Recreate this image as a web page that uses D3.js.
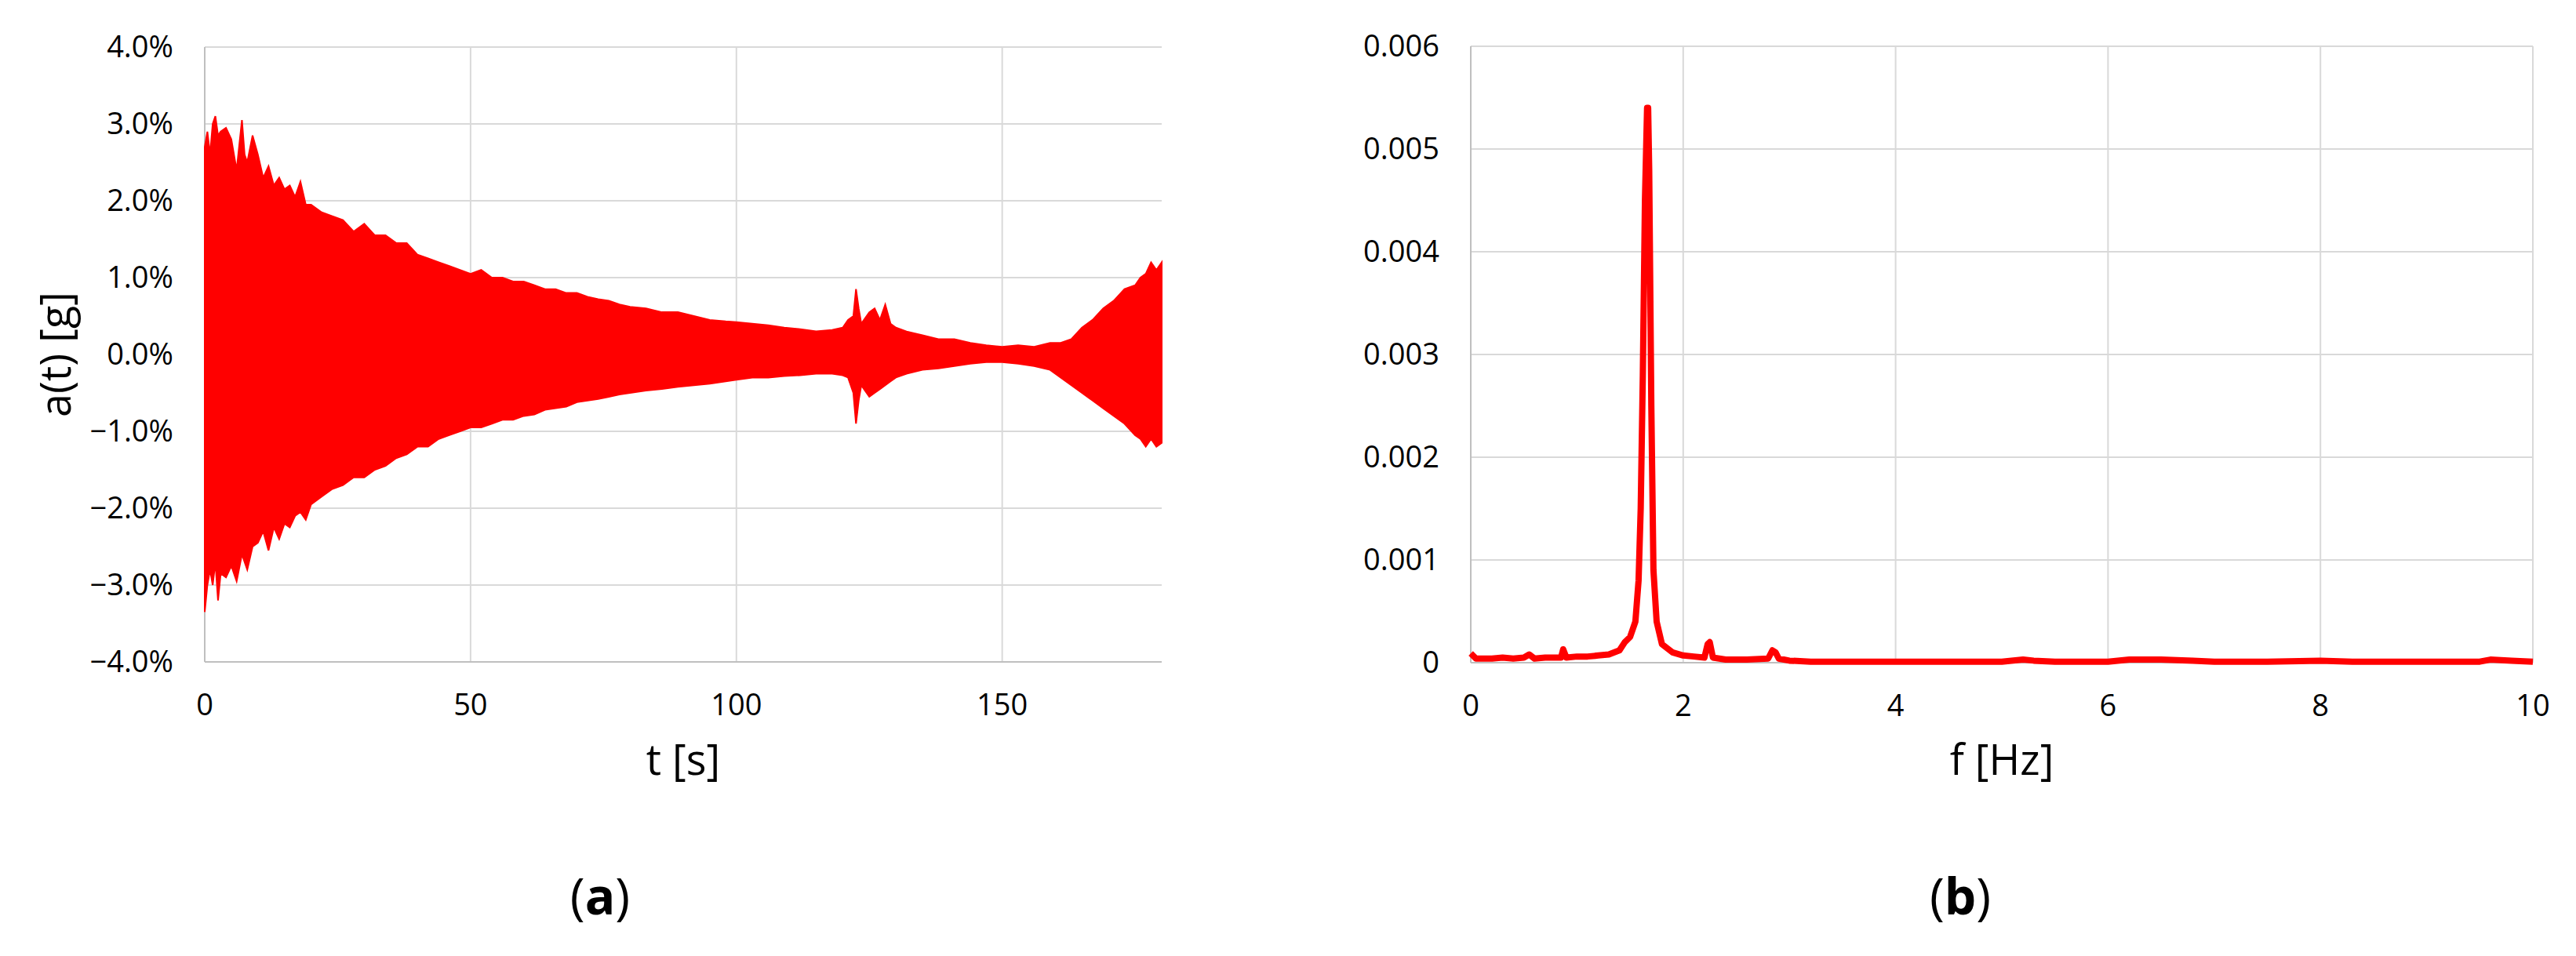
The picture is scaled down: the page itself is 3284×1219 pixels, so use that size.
<!DOCTYPE html>
<html><head><meta charset="utf-8">
<script src="https://cdn.jsdelivr.net/npm/d3@7"></script>
<style>body{margin:0;background:#fff}text{font-family:"Liberation Sans Narrow","Open Sans",sans-serif}</style>
</head><body><svg id="c" width="3284" height="1219"></svg>
<script>
// Panel (a): envelope of acceleration (% g)
const tUpper=[0,0.5,1,1.5,2,2.5,3,4,5,6,7,7.5,8,9,10,11,12,13,14,15,16,17,18,19,20,22,24,26,28,30,32,34,36,38,40,42,44,46,48,50,52,54,56,58,60,62,64,66,68,70,72,74,76,78,80,83,86,89,92,95,98,100,103,106,109,112,115,118,120,121,122,122.5,123,123.5,124,125,126,127,128,129,130,132,135,138,141,144,147,150,153,156,159,161,163,165,167,169,171,173,175,176,177,178,179,180];
const aUpper=[2.7,2.9,2.6,3.0,3.1,2.85,2.9,2.95,2.8,2.4,3.05,2.6,2.5,2.85,2.6,2.3,2.45,2.2,2.3,2.15,2.2,2.05,2.25,1.95,1.95,1.85,1.8,1.75,1.6,1.7,1.55,1.55,1.45,1.45,1.3,1.25,1.2,1.15,1.1,1.05,1.1,1.0,1.0,0.95,0.95,0.9,0.85,0.85,0.8,0.8,0.75,0.72,0.7,0.65,0.62,0.6,0.55,0.55,0.5,0.45,0.43,0.42,0.4,0.38,0.35,0.33,0.3,0.32,0.35,0.45,0.5,0.85,0.6,0.4,0.45,0.55,0.6,0.45,0.65,0.4,0.35,0.3,0.25,0.2,0.2,0.15,0.12,0.1,0.12,0.1,0.15,0.15,0.2,0.35,0.45,0.6,0.7,0.85,0.9,1.0,1.05,1.2,1.1,1.2,1.15];
const tLower=[0,0.5,1,1.5,2,2.5,3,4,5,6,7,8,9,10,11,12,13,14,15,16,17,18,19,20,22,24,26,28,30,32,34,36,38,40,42,44,46,48,50,52,54,56,58,60,62,64,66,68,70,72,74,76,78,80,83,86,89,92,95,98,100,103,106,109,112,115,118,120,121,122,122.5,123,123.5,124,125,126,127,128,129,130,132,135,138,141,144,147,150,153,156,159,161,163,165,167,169,171,173,175,176,177,178,179,180];
const aLower=[-3.35,-3.0,-2.8,-3.0,-2.7,-3.2,-2.85,-2.9,-2.75,-2.95,-2.6,-2.8,-2.5,-2.45,-2.3,-2.55,-2.25,-2.4,-2.2,-2.25,-2.1,-2.05,-2.15,-1.95,-1.85,-1.75,-1.7,-1.6,-1.6,-1.5,-1.45,-1.35,-1.3,-1.2,-1.2,-1.1,-1.05,-1.0,-0.95,-0.95,-0.9,-0.85,-0.85,-0.8,-0.78,-0.72,-0.7,-0.68,-0.62,-0.6,-0.58,-0.55,-0.52,-0.5,-0.47,-0.45,-0.42,-0.4,-0.38,-0.35,-0.33,-0.3,-0.3,-0.28,-0.27,-0.25,-0.25,-0.27,-0.3,-0.5,-0.9,-0.6,-0.4,-0.45,-0.55,-0.5,-0.45,-0.4,-0.35,-0.3,-0.25,-0.2,-0.18,-0.15,-0.12,-0.1,-0.1,-0.12,-0.15,-0.2,-0.3,-0.4,-0.5,-0.6,-0.7,-0.8,-0.9,-1.05,-1.1,-1.2,-1.1,-1.2,-1.15];
const aTicksY=[-4,-3,-2,-1,0,1,2,3,4];
const aTicksX=[0,50,100,150];
// Panel (b): spectrum
const fHz=[0,0.05,0.1,0.2,0.3,0.4,0.5,0.55,0.6,0.7,0.8,0.85,0.87,0.9,1.0,1.1,1.2,1.3,1.4,1.45,1.5,1.55,1.58,1.6,1.62,1.64,1.66,1.67,1.68,1.7,1.72,1.75,1.8,1.9,2.0,2.1,2.2,2.23,2.25,2.28,2.4,2.6,2.8,2.84,2.87,2.9,3.0,3.2,3.5,4.0,4.5,5.0,5.2,5.3,5.5,6.0,6.2,6.5,6.8,7.0,7.5,8.0,8.3,9.0,9.5,9.6,9.8,10];
const amp=[0.00009,0.00004,0.00004,0.00004,0.00005,0.00004,0.00005,0.00008,0.00004,0.00005,0.00005,0.00005,0.00013,0.00005,0.00006,0.00006,0.00007,0.00008,0.00012,0.0002,0.00025,0.0004,0.0008,0.0015,0.0028,0.0045,0.0054,0.0054,0.0048,0.0025,0.0009,0.0004,0.00018,0.0001,0.00007,0.00006,0.00005,0.00018,0.0002,0.00005,0.00003,0.00003,0.00004,0.00012,0.0001,0.00004,0.00002,0.00001,0.00001,0.00001,0.00001,0.00001,0.00003,0.00002,0.00001,0.00001,0.00003,0.00003,0.00002,0.00001,0.00001,0.00002,0.00001,0.00001,0.00001,0.00003,0.00002,0.00001];
const bTicksY=[0,0.001,0.002,0.003,0.004,0.005,0.006];
const bTicksX=[0,2,4,6,8,10];

const svg=d3.select("#c");
const grid="#d9d9d9";
function panel(xs,ys,xt,yt,yfmt,xTitle,yTitle,label,lx){
  const g=svg.append("g");
  g.selectAll(".gy").data(yt).join("line").attr("x1",xs.range()[0]).attr("x2",xs.range()[1])
   .attr("y1",d=>ys(d)).attr("y2",d=>ys(d)).attr("stroke",grid).attr("stroke-width",2);
  g.selectAll(".gx").data(xt).join("line").attr("x1",d=>xs(d)).attr("x2",d=>xs(d))
   .attr("y1",ys.range()[0]).attr("y2",ys.range()[1]).attr("stroke",grid).attr("stroke-width",2);
  g.append("line").attr("x1",xs.range()[0]).attr("x2",xs.range()[1]).attr("y1",ys.range()[0]).attr("y2",ys.range()[0]).attr("stroke","#bfbfbf").attr("stroke-width",2);
  g.append("line").attr("x1",xs.range()[0]).attr("x2",xs.range()[0]).attr("y1",ys.range()[0]).attr("y2",ys.range()[1]).attr("stroke","#bfbfbf").attr("stroke-width",2);
  g.selectAll(".ty").data(yt).join("text").attr("x",xs.range()[0]-40).attr("y",d=>ys(d)).attr("dy","0.35em")
   .attr("text-anchor","end").attr("font-size",38).text(yfmt);
  g.selectAll(".tx").data(xt).join("text").attr("x",d=>xs(d)).attr("y",ys.range()[0]+55).attr("dy","0.35em")
   .attr("text-anchor","middle").attr("font-size",38).text(d=>d);
  const cx=(xs.range()[0]+xs.range()[1])/2;
  g.append("text").attr("x",cx).attr("y",988).attr("text-anchor","middle").attr("font-size",54).text(xTitle);
  if(yTitle) g.append("text").attr("transform",`translate(90,452) rotate(-90)`).attr("text-anchor","middle").attr("font-size",54).text(yTitle);
  const t=g.append("text").attr("x",lx).attr("y",1166).attr("text-anchor","middle").attr("font-size",64)
   .attr("font-family","'DejaVu Serif',serif");
  t.append("tspan").text("(");t.append("tspan").attr("font-weight","bold").text(label);t.append("tspan").text(")");
  return g;
}
// (a)
const xa=d3.scaleLinear().domain([0,180]).range([261,1481]);
const ya=d3.scaleLinear().domain([-4,4]).range([844,60]);
const ga=panel(xa,ya,aTicksX,aTicksY,d=>(d<0?"−":"")+Math.abs(d).toFixed(1)+"%","t [s]","a(t) [g]","a",765);
const up=tUpper.map((t,i)=>[t,aUpper[i]]);
const lo=tLower.map((t,i)=>[t,aLower[i]]);
const poly=up.concat(lo.slice().reverse());
ga.append("path").datum(poly).attr("d",d3.line().x(d=>xa(d[0])).y(d=>ya(d[1])).curve(d3.curveLinearClosed))
  .attr("fill","#ff0000").attr("stroke","#ff0000").attr("stroke-width",2);
// (b)
const xb=d3.scaleLinear().domain([0,10]).range([1875,3229]);
const yb=d3.scaleLinear().domain([0,0.006]).range([845,59]);
const gb=panel(xb,yb,bTicksX,bTicksY,d=>d===0?"0":d.toFixed(3),"f [Hz]",null,"b",2499);
gb.append("path").datum(fHz.map((f,i)=>[f,amp[i]])).attr("d",d3.line().x(d=>xb(d[0])).y(d=>yb(d[1])))
  .attr("fill","none").attr("stroke","#ff0000").attr("stroke-width",8).attr("stroke-linejoin","round");
</script></body></html>
